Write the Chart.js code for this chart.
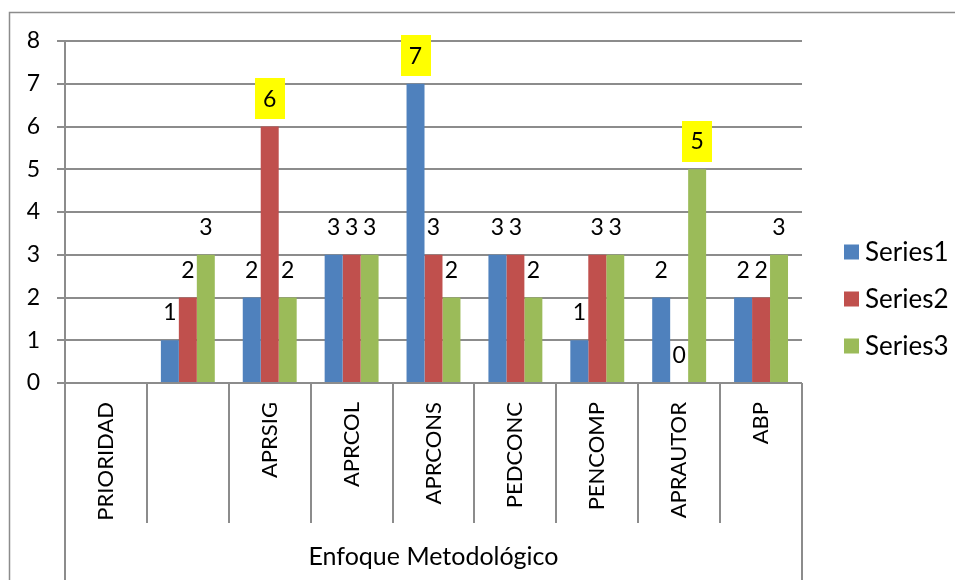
<!DOCTYPE html>
<html>
<head>
<meta charset="utf-8">
<script src="https://cdn.jsdelivr.net/npm/chart.js@4/dist/chart.umd.min.js"></script>
<style>
  html, body { margin: 0; padding: 0; background: #ffffff; }
  #wrap { width: 955px; height: 580px; }
</style>
</head>
<body>
<div id="wrap"><canvas id="c" width="955" height="580"></canvas></div>
<script>
// ---- data ----
const categories = ['PRIORIDAD', '', 'APRSIG', 'APRCOL', 'APRCONS', 'PEDCONC', 'PENCOMP', 'APRAUTOR', 'ABP'];
const series1 = [null, 1, 2, 3, 7, 3, 1, 2, 2];
const series2 = [null, 2, 6, 3, 3, 3, 3, 0, 2];
const series3 = [null, 3, 2, 3, 2, 2, 3, 5, 3];
const seriesNames = ['Series1', 'Series2', 'Series3'];
const seriesColors = ['#4F81BD', '#C0504D', '#9BBB59'];
const axisTitle = 'Enfoque Metodológico';
const yMin = 0;
const yMax = 8;
const yStep = 1;
// labels shown on a yellow background: [series index, category index]
const highlighted = [[1, 2], [0, 4], [2, 7]];

const GRID = '#8c8c8c';
const FONT = 'Lato';

const labelPlugin = {
  id: 'barLabels',
  afterDatasetsDraw(chart) {
    const ctx = chart.ctx;
    ctx.save();
    ctx.font = '23px ' + FONT;
    ctx.textAlign = 'center';
    ctx.textBaseline = 'alphabetic';
    chart.data.datasets.forEach((ds, si) => {
      const meta = chart.getDatasetMeta(si);
      meta.data.forEach((bar, i) => {
        const v = ds.data[i];
        if (v === null || v === undefined) return;
        const cx = bar.x;
        const cy = bar.y - 28;
        const hl = highlighted.some(h => h[0] === si && h[1] === i);
        if (hl) {
          ctx.fillStyle = '#FFFF00';
          ctx.fillRect(Math.round(cx - 15), Math.round(cy - 20.5), 30, 41);
        }
        ctx.fillStyle = '#000000';
        ctx.fillText(String(v), cx, cy + 8.2);
      });
    });
    ctx.restore();
  }
};

const framePlugin = {
  id: 'frame',
  afterDraw(chart) {
    const ctx = chart.ctx;
    const area = chart.chartArea;
    const xs = chart.scales.x;
    const n = categories.length;
    const w = (xs.right - xs.left) / n;
    ctx.save();
    // outer border
    ctx.strokeStyle = GRID;
    ctx.lineWidth = 1.5;
    ctx.strokeRect(9.5, 12.5, 1100, 700);
    // category separators
    ctx.lineWidth = 2;
    ctx.strokeStyle = GRID;
    for (let i = 0; i <= n; i++) {
      const x = Math.round(xs.left + i * w);
      const yEnd = (i === 0 || i === n) ? chart.height : area.bottom + 140;
      ctx.beginPath();
      ctx.moveTo(x, area.bottom);
      ctx.lineTo(x, yEnd);
      ctx.stroke();
    }
    // legend
    const lx = area.right + 42;
    const centers = [252, 299, 346];
    ctx.font = '26px ' + FONT;
    ctx.textAlign = 'left';
    ctx.textBaseline = 'alphabetic';
    chart.data.datasets.forEach((ds, si) => {
      const cy = centers[si];
      ctx.fillStyle = ds.backgroundColor;
      ctx.fillRect(lx, cy - 7.5, 15, 15);
      ctx.fillStyle = '#000000';
      ctx.fillText(ds.label, lx + 21, cy + 9.3);
    });
    ctx.restore();
  }
};

Chart.defaults.font.family = FONT;

new Chart(document.getElementById('c'), {
  type: 'bar',
  data: {
    labels: categories,
    datasets: [
      { label: seriesNames[0], data: series1, backgroundColor: seriesColors[0] },
      { label: seriesNames[1], data: series2, backgroundColor: seriesColors[1] },
      { label: seriesNames[2], data: series3, backgroundColor: seriesColors[2] }
    ]
  },
  options: {
    responsive: false,
    animation: false,
    events: [],
    layout: { padding: { left: 0, top: 41, right: 153, bottom: 0 } },
    datasets: { bar: { categoryPercentage: 0.6585, barPercentage: 1.0 } },
    plugins: {
      legend: { display: false },
      tooltip: { enabled: false }
    },
    scales: {
      x: {
        grid: { display: false, drawTicks: false, tickLength: 0 },
        border: { display: false },
        ticks: {
          autoSkip: false, minRotation: 90, maxRotation: 90, padding: 19,
          font: { family: FONT, size: 22 }, color: '#000000'
        },
        title: {
          display: true, text: axisTitle, color: '#000000',
          font: { family: FONT, size: 25 }, padding: { top: 0, bottom: 8 }
        },
        afterFit(s) { s.height = 197; }
      },
      y: {
        min: yMin, max: yMax,
        ticks: { stepSize: yStep, padding: 17, font: { family: FONT, size: 23 }, color: '#000000' },
        grid: { color: GRID, lineWidth: 2, tickLength: 8, drawTicks: true },
        border: { display: true, color: GRID, width: 2 },
        afterFit(s) { s.width = 65; }
      }
    }
  },
  plugins: [labelPlugin, framePlugin]
});
</script>
</body>
</html>
